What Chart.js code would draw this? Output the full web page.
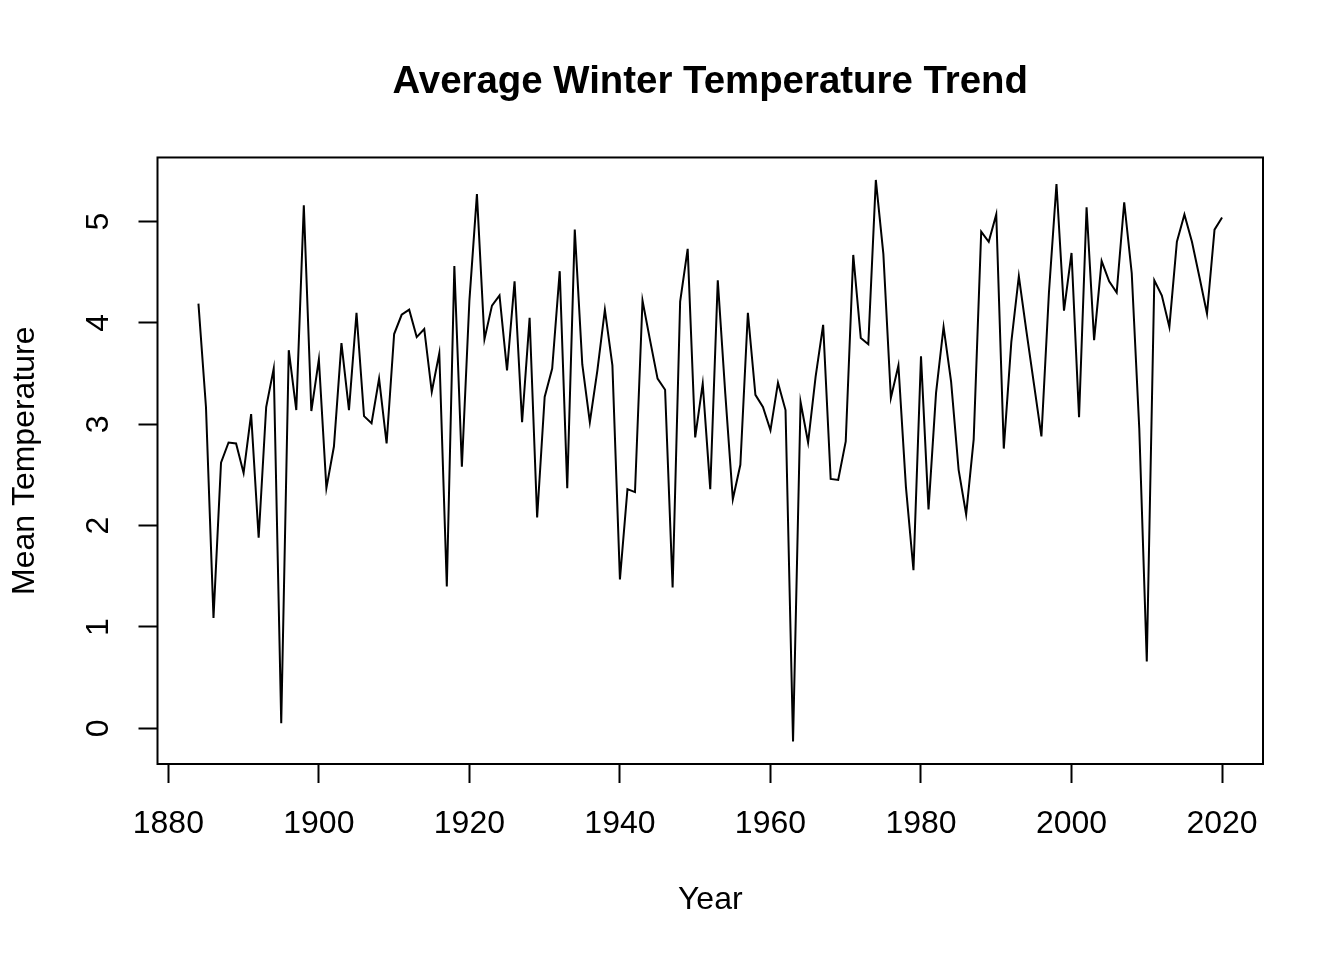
<!DOCTYPE html>
<html>
<head>
<meta charset="utf-8">
<title>Average Winter Temperature Trend</title>
<script src="https://cdn.jsdelivr.net/npm/chart.js@4.4.1/dist/chart.umd.min.js"></script>
<style>
  html, body { margin: 0; padding: 0; background: #ffffff; }
  #wrap { width: 1344px; height: 960px; }
</style>
</head>
<body>
<div id="wrap"><canvas id="tempChart" width="1344" height="960"></canvas></div>
<script>
// Years of the series
const years = [
  1884, 1885, 1886, 1887, 1888, 1889, 1890, 1891, 1892, 1893, 1894, 1895, 1896, 1897, 1898, 1899,
  1900, 1901, 1902, 1903, 1904, 1905, 1906, 1907, 1908, 1909, 1910, 1911, 1912, 1913, 1914, 1915,
  1916, 1917, 1918, 1919, 1920, 1921, 1922, 1923, 1924, 1925, 1926, 1927, 1928, 1929, 1930, 1931,
  1932, 1933, 1934, 1935, 1936, 1937, 1938, 1939, 1940, 1941, 1942, 1943, 1944, 1945, 1946, 1947,
  1948, 1949, 1950, 1951, 1952, 1953, 1954, 1955, 1956, 1957, 1958, 1959, 1960, 1961, 1962, 1963,
  1964, 1965, 1966, 1967, 1968, 1969, 1970, 1971, 1972, 1973, 1974, 1975, 1976, 1977, 1978, 1979,
  1980, 1981, 1982, 1983, 1984, 1985, 1986, 1987, 1988, 1989, 1990, 1991, 1992, 1993, 1994, 1995,
  1996, 1997, 1998, 1999, 2000, 2001, 2002, 2003, 2004, 2005, 2006, 2007, 2008, 2009, 2010, 2011,
  2012, 2013, 2014, 2015, 2016, 2017, 2018, 2019, 2020
];

// Mean winter temperature
const meanTemps = [
  4.19, 3.17, 1.09, 2.62, 2.82, 2.81, 2.52, 3.10, 1.88, 3.17, 3.55, 0.05, 3.73, 3.14, 5.16, 3.13,
  3.64, 2.37, 2.78, 3.80, 3.14, 4.10, 3.08, 3.01, 3.45, 2.81, 3.89, 4.08, 4.13, 3.86, 3.94, 3.32,
  3.70, 1.40, 4.56, 2.58, 4.22, 5.27, 3.84, 4.17, 4.27, 3.53, 4.41, 3.02, 4.05, 2.08, 3.27, 3.55,
  4.51, 2.37, 4.92, 3.59, 3.02, 3.53, 4.13, 3.58, 1.47, 2.36, 2.33, 4.22, 3.83, 3.45, 3.34, 1.39,
  4.21, 4.73, 2.87, 3.40, 2.36, 4.42, 3.30, 2.26, 2.60, 4.10, 3.29, 3.17, 2.94, 3.41, 3.14, -0.13,
  3.22, 2.82, 3.47, 3.98, 2.46, 2.45, 2.83, 4.67, 3.85, 3.79, 5.41, 4.68, 3.26, 3.58, 2.38, 1.56,
  3.67, 2.16, 3.31, 3.96, 3.42, 2.55, 2.11, 2.85, 4.90, 4.80, 5.07, 2.76, 3.81, 4.46, 3.92, 3.40,
  2.88, 4.30, 5.37, 4.12, 4.69, 3.07, 5.14, 3.83, 4.61, 4.41, 4.30, 5.19, 4.49, 2.96, 0.66, 4.42,
  4.27, 3.96, 4.80, 5.07, 4.80, 4.45, 4.09, 4.92, 5.04
];

// Tick labels
const xTicks = [1880, 1900, 1920, 1940, 1960, 1980, 2000, 2020];
const yTicks = [0, 1, 2, 3, 4, 5];

const fontFamily = "'Liberation Sans', Arial, Helvetica, sans-serif";

// R-style axis range: data range extended by 4% on each side
function paddedRange(values) {
  const lo = Math.min(...values);
  const hi = Math.max(...values);
  const pad = (hi - lo) * 0.04;
  return [lo - pad, hi + pad];
}
const [xMin, xMax] = paddedRange(years);
const [yMin, yMax] = paddedRange(meanTemps);

const points = years.map((yr, i) => ({ x: yr, y: meanTemps[i] }));

// Draws the box around the plot region like base R graphics
const boxPlugin = {
  id: "plotBox",
  afterDraw(chart) {
    const { ctx, chartArea } = chart;
    ctx.save();
    ctx.strokeStyle = "#000000";
    ctx.lineWidth = 2;
    ctx.strokeRect(chartArea.left, chartArea.top,
      chartArea.right - chartArea.left, chartArea.bottom - chartArea.top);
    ctx.restore();
  },
};

const ctx = document.getElementById("tempChart").getContext("2d");
new Chart(ctx, {
  type: "line",
  data: {
    datasets: [
      {
        label: "Mean Temperature",
        data: points,
        borderColor: "#000000",
        borderWidth: 2,
        pointRadius: 0,
        tension: 0,
        fill: false,
      },
    ],
  },
  options: {
    responsive: false,
    animation: false,
    devicePixelRatio: 1,
    layout: { padding: { top: 0, right: 81, bottom: 0, left: 0 } },
    plugins: {
      legend: { display: false },
      tooltip: { enabled: false },
      title: {
        display: true,
        text: "Average Winter Temperature Trend",
        color: "#000000",
        fullSize: false,
        font: { family: fontFamily, size: 38.4, weight: "bold" },
        padding: { top: 59, bottom: 52.4 },
      },
    },
    scales: {
      x: {
        type: "linear",
        min: xMin,
        max: xMax,
        afterBuildTicks: (scale) => {
          scale.ticks = xTicks.map((v) => ({ value: v }));
        },
        afterFit: (scale) => {
          scale.height = 196;
        },
        border: { display: false },
        grid: {
          drawOnChartArea: false,
          drawTicks: true,
          tickLength: 19,
          tickWidth: 2,
          tickColor: "#000000",
          color: "#000000",
        },
        ticks: {
          color: "#000000",
          padding: 22,
          maxRotation: 0,
          font: { family: fontFamily, size: 32 },
          callback: (v) => String(v),
        },
        title: {
          display: true,
          text: "Year",
          color: "#000000",
          font: { family: fontFamily, size: 32 },
          padding: { top: 0, bottom: 41 },
        },
      },
      y: {
        type: "linear",
        min: yMin,
        max: yMax,
        afterBuildTicks: (scale) => {
          scale.ticks = yTicks.map((v) => ({ value: v }));
        },
        afterFit: (scale) => {
          scale.width = 157.5;
        },
        border: { display: false },
        grid: {
          drawOnChartArea: false,
          drawTicks: true,
          tickLength: 19,
          tickWidth: 2,
          tickColor: "#000000",
          color: "#000000",
        },
        ticks: {
          color: "#000000",
          padding: 30,
          minRotation: 90,
          maxRotation: 90,
          crossAlign: "center",
          font: { family: fontFamily, size: 32 },
          callback: (v) => String(v),
        },
        title: {
          display: true,
          text: "Mean Temperature",
          color: "#000000",
          font: { family: fontFamily, size: 32 },
          padding: { top: 6, bottom: 0 },
        },
      },
    },
  },
  plugins: [boxPlugin],
});
</script>
</body>
</html>
